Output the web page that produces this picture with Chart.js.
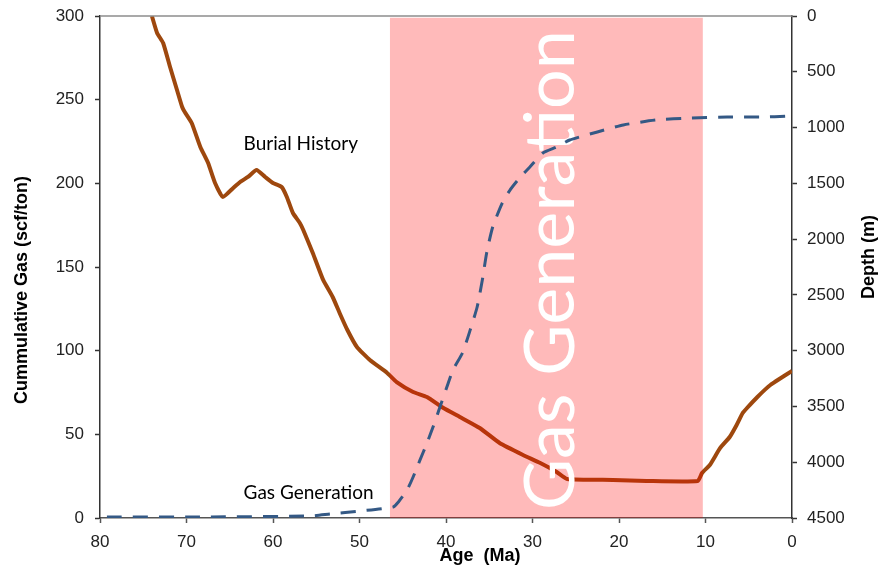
<!DOCTYPE html>
<html>
<head>
<meta charset="utf-8">
<style>
  html, body { margin: 0; padding: 0; background: #fff; }
  #wrap { width: 881px; height: 575px; }
</style>
<script src="https://cdn.jsdelivr.net/npm/chart.js@4.4.9/dist/chart.umd.min.js"></script>
</head>
<body>
<div id="wrap"><canvas id="gasChart" width="881" height="575"></canvas></div>
<script>
// burial history (age in Ma, depth in m) - right axis
const burialAge = [74.0, 73.4, 72.7, 71.9, 71.1, 70.5, 70.2, 69.4, 68.4, 67.5, 66.7, 65.8, 64.6, 63.8, 62.9, 61.9,
    60.9, 60.0, 59.0, 58.4, 57.7, 56.9, 56.5, 55.4, 54.2, 53.1, 52.3, 51.4, 50.3, 48.8, 46.8, 45.7, 43.8, 42.2,
    40.3, 38.4, 36.1, 33.8, 31.1, 29.1, 27.2, 26.0, 20.7, 16.8, 10.9, 10.4, 9.5, 8.3, 7.2, 6.4, 5.7, 5.2, 4.0, 2.5, 0];
const burialDepth = [0, 152, 242, 457, 663, 816, 861, 959, 1174, 1318, 1497, 1622, 1542, 1488, 1443, 1380,
    1443, 1497, 1533, 1622, 1766, 1855, 1918, 2124, 2366, 2519, 2662, 2815, 2967, 3084, 3200, 3281, 3370, 3415,
    3514, 3594, 3693, 3828, 3935, 4007, 4087, 4150, 4159, 4168, 4168, 4096, 4025, 3872, 3774, 3666, 3559, 3514, 3415, 3308, 3182];

// cumulative gas generation (scf/ton) - left axis
const gasAge = [79.2, 68.4, 55.7, 53.4, 49.9, 46.1, 45.5, 44.5, 43.8, 43.0, 42.2, 41.5, 40.7, 39.9, 39.2, 38.1,
    37.2, 36.4, 35.8, 35.3, 34.6, 33.5, 32.6, 31.4, 30.3, 28.8, 27.2, 25.7, 22.5, 19.5, 15.6, 11.8, 7.5, 3.4, 0.6, 0];
const gasCum = [0.6, 0.6, 1.2, 2.4, 4.2, 6.6, 9.6, 16.7, 24.5, 34.7, 44.8, 54.4, 66.3, 78.3, 88.4, 98.6,
    112.4, 126.1, 142.2, 158.4, 173.9, 188.2, 196.0, 203.8, 209.8, 218.1, 221.7, 225.9, 230.7, 234.9, 237.9, 239.0, 239.6, 239.6, 240.2, 240.8];

// gas generation window (shaded box)
const windowAge = [46.5, 10.3];
const windowTop = [299, 299];

const ageTicks = [80, 70, 60, 50, 40, 30, 20, 10, 0];
const leftTicks = [0, 50, 100, 150, 200, 250, 300];
const depthTicks = [0, 500, 1000, 1500, 2000, 2500, 3000, 3500, 4000, 4500];

const toXY = (xs, ys) => xs.map((x, i) => ({ x: x, y: ys[i] }));

// 글씨, 테두리 등 직접 그리는 플러그인
const decorations = {
    id: 'decorations',
    afterDatasetDraw(chart, args) {
        if (args.index !== 1) return;
        // big white label over the shaded window
        const ctx = chart.ctx;
        ctx.save();
        ctx.font = '70px Lato, "Open Sans"';
        const w = ctx.measureText('Gas Generation').width;
        ctx.translate(574, 510);
        ctx.rotate(-Math.PI / 2);
        ctx.scale(480 / w, 1);
        ctx.fillStyle = '#ffffff';
        ctx.textBaseline = 'alphabetic';
        ctx.textAlign = 'left';
        ctx.fillText('Gas Generation', 0, 0);
        ctx.restore();
    },
    afterDraw(chart) {
        const ctx = chart.ctx;
        const a = chart.chartArea;
        const sx = chart.scales.x, sy = chart.scales.y, sd = chart.scales.y2;
        ctx.save();
        // top border
        ctx.strokeStyle = '#8c8c8c';
        ctx.lineWidth = 1.5;
        ctx.beginPath();
        ctx.moveTo(a.left, a.top);
        ctx.lineTo(a.right, a.top);
        ctx.stroke();

        // series labels
        ctx.fillStyle = '#000';
        ctx.font = '19px Lato, "Open Sans"';
        ctx.textAlign = 'left';
        ctx.textBaseline = 'middle';
        ctx.fillText('Burial History', sx.getPixelForValue(63.4), sd.getPixelForValue(1150));
        ctx.fillText('Gas Generation', sx.getPixelForValue(63.4), sy.getPixelForValue(15));

        // axis titles
        ctx.font = 'bold 18px Arial, "Liberation Sans"';
        ctx.fillStyle = '#000';
        ctx.textAlign = 'center';
        ctx.fillText('Age  (Ma)', 480, 556);

        ctx.save();
        ctx.translate(22, 290);
        ctx.rotate(-Math.PI / 2);
        ctx.fillText('Cummulative Gas (scf/ton)', 0, 0);
        ctx.restore();

        ctx.save();
        ctx.translate(869, 257);
        ctx.rotate(-Math.PI / 2);
        ctx.fillText('Depth (m)', 0, 0);
        ctx.restore();
        ctx.restore();
    }
};

const tickFont = { family: 'Arial, "Liberation Sans"', size: 17 };

// 축 크기 고정 (chart area: 100..792 x 16..518)
const fixVertical = w => s => { s.width = w; s.paddingTop = 0; s.paddingBottom = 0; };

new Chart(document.getElementById('gasChart'), {
    type: 'line',
    data: {
        datasets: [
            {
                label: 'Gas Generation',
                data: toXY(gasAge, gasCum),
                yAxisID: 'y',
                borderColor: '#345985',
                borderWidth: 3,
                borderDash: [15, 11],
                pointRadius: 0,
                tension: 0.2,
                fill: false
            },
            {
                label: 'window',
                data: toXY(windowAge, windowTop),
                yAxisID: 'y',
                borderWidth: 0,
                borderColor: 'rgba(0,0,0,0)',
                backgroundColor: 'rgba(255,0,0,0.27)',
                pointRadius: 0,
                tension: 0,
                fill: 'origin'
            },
            {
                label: 'Burial History',
                data: toXY(burialAge, burialDepth),
                yAxisID: 'y2',
                borderColor: '#9e480e',
                borderWidth: 4,
                pointRadius: 0,
                tension: 0.15,
                fill: false
            }
        ]
    },
    options: {
        responsive: false,
        animation: false,
        layout: { padding: { top: 16, left: 0, right: 0, bottom: 0 } },
        plugins: {
            legend: { display: false },
            tooltip: { enabled: false }
        },
        scales: {
            x: {
                type: 'linear',
                reverse: true,
                min: 0,
                max: 80,
                afterFit: s => { s.height = 57; s.paddingLeft = 0; s.paddingRight = 0; },
                afterBuildTicks: s => { s.ticks = ageTicks.map(v => ({ value: v })); },
                ticks: { font: tickFont, color: '#222', padding: 9, maxRotation: 0, callback: v => String(v) },
                grid: { drawOnChartArea: false, drawTicks: true, tickLength: 5, tickColor: '#555', tickWidth: 1.5 },
                border: { display: true, color: '#555', width: 1.5 }
            },
            y: {
                position: 'left',
                min: 0,
                max: 300,
                afterFit: fixVertical(100),
                afterBuildTicks: s => { s.ticks = leftTicks.map(v => ({ value: v })); },
                ticks: { font: tickFont, color: '#222', padding: 11, callback: v => String(v) },
                grid: { drawOnChartArea: false, drawTicks: true, tickLength: 5, tickColor: '#333', tickWidth: 1.5 },
                border: { display: true, color: '#333', width: 1.5 }
            },
            y2: {
                position: 'right',
                reverse: true,
                min: 0,
                max: 4500,
                afterFit: fixVertical(89),
                afterBuildTicks: s => { s.ticks = depthTicks.map(v => ({ value: v })); },
                ticks: { font: tickFont, color: '#222', padding: 10, callback: v => String(v) },
                grid: { drawOnChartArea: false, drawTicks: true, tickLength: 5, tickColor: '#333', tickWidth: 1.5 },
                border: { display: true, color: '#333', width: 1.5 }
            }
        }
    },
    plugins: [decorations]
});
</script>
</body>
</html>
